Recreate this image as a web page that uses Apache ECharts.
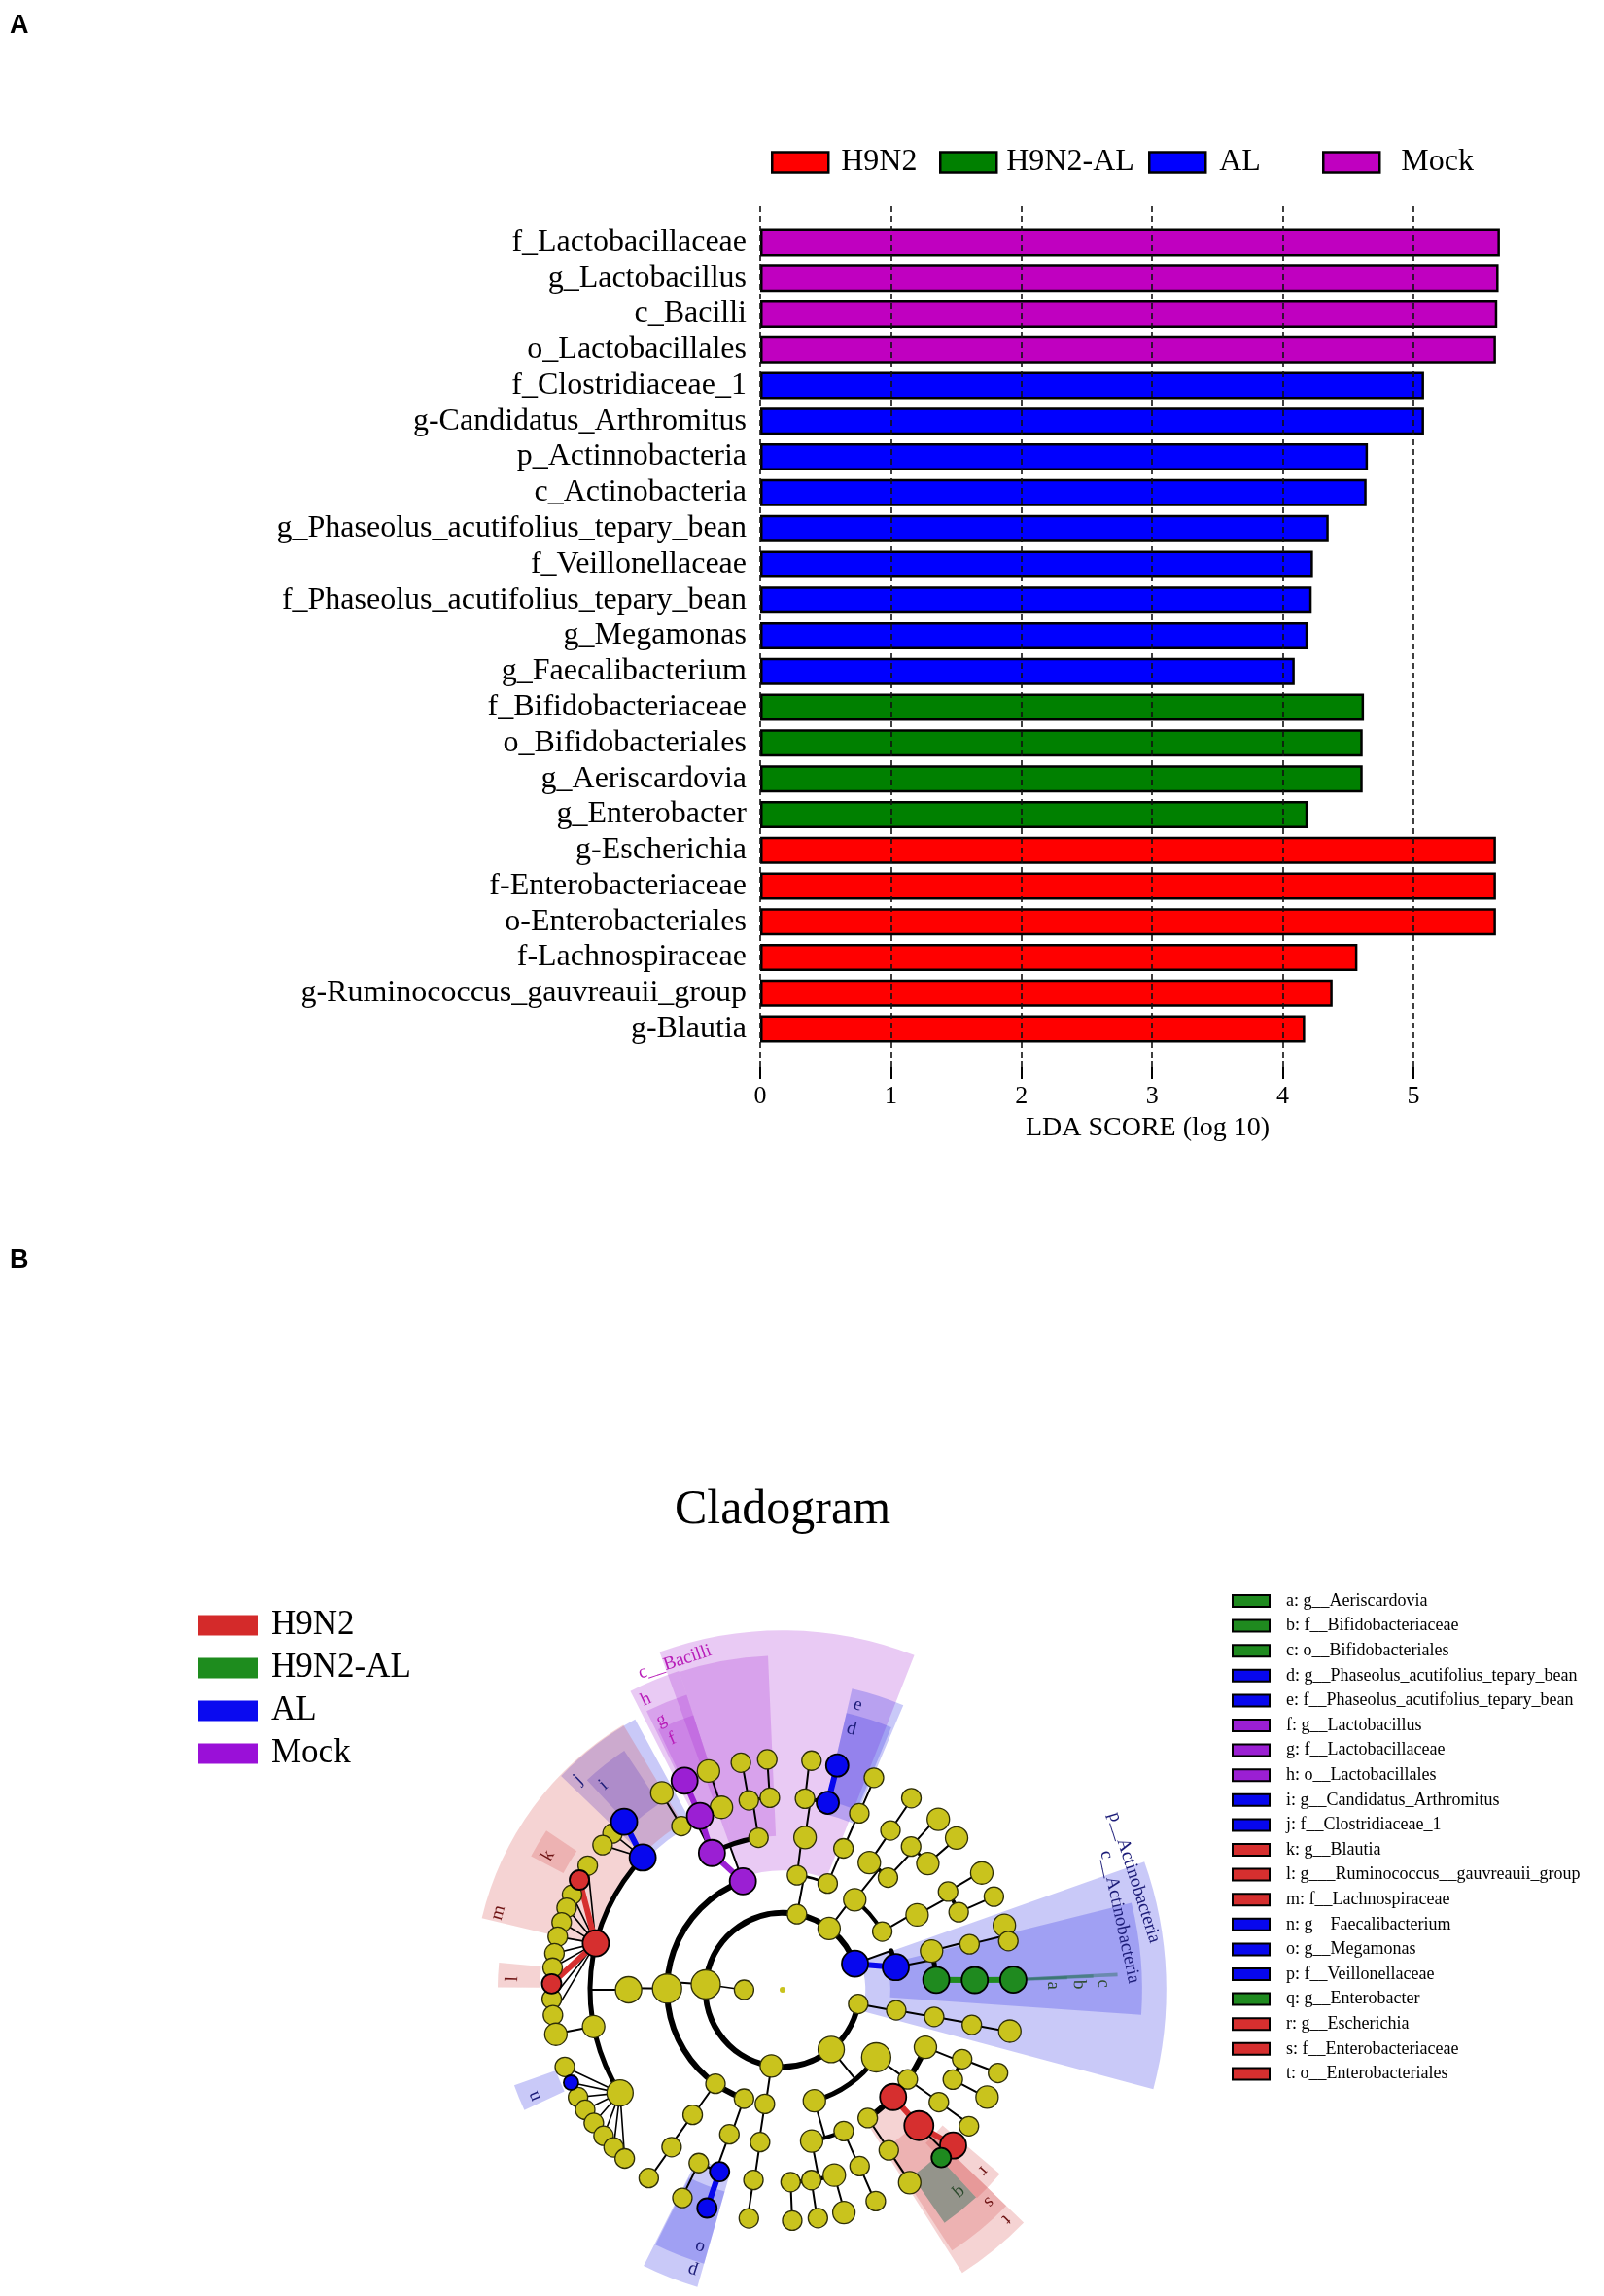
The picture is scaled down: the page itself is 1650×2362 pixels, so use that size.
<!DOCTYPE html>
<html>
<head>
<meta charset="utf-8">
<title>LDA score and cladogram</title>
<script src="https://cdn.jsdelivr.net/npm/echarts/dist/echarts.min.js"></script>
<style>
  html, body { margin: 0; padding: 0; background: #fff; }
  #chart { width: 1650px; height: 2362px; }
</style>
</head>
<body>
<div id="chart"></div>
<script>
const RAD = Math.PI / 180;
const SERIF = 'Liberation Serif';

// ---------- panel A: LDA scores (top to bottom) ----------
const taxa = [
  'f_Lactobacillaceae', 'g_Lactobacillus', 'c_Bacilli', 'o_Lactobacillales',
  'f_Clostridiaceae_1', 'g-Candidatus_Arthromitus', 'p_Actinnobacteria', 'c_Actinobacteria',
  'g_Phaseolus_acutifolius_tepary_bean', 'f_Veillonellaceae', 'f_Phaseolus_acutifolius_tepary_bean',
  'g_Megamonas', 'g_Faecalibacterium', 'f_Bifidobacteriaceae', 'o_Bifidobacteriales',
  'g_Aeriscardovia', 'g_Enterobacter', 'g-Escherichia', 'f-Enterobacteriaceae',
  'o-Enterobacteriales', 'f-Lachnospiraceae', 'g-Ruminococcus_gauvreauii_group', 'g-Blautia'
];
const ldaScores = [
  5.66, 5.65, 5.64, 5.63,
  5.08, 5.08, 4.65, 4.64,
  4.35, 4.23, 4.22,
  4.19, 4.09, 4.62, 4.61,
  4.61, 4.19, 5.63, 5.63,
  5.63, 4.57, 4.38, 4.17
];
const taxaGroup = [
  'Mock', 'Mock', 'Mock', 'Mock',
  'AL', 'AL', 'AL', 'AL', 'AL', 'AL', 'AL', 'AL', 'AL',
  'H9N2-AL', 'H9N2-AL', 'H9N2-AL', 'H9N2-AL',
  'H9N2', 'H9N2', 'H9N2', 'H9N2', 'H9N2', 'H9N2'
];
const groups = ['H9N2', 'H9N2-AL', 'AL', 'Mock'];

// ---------- panel B: cladogram ----------
// [id, parent, level (ring), angle (deg, counter-clockwise from east), group, abundance class]
const nodes = [
  ['root', '', 0, 0, '', 0],
  ['fir', 'root', 2, 176, '', 5],
  ['x40', 'fir', 1, 180, '', 2],
  ['p1', 'root', 2, 79.2, '', 2],
  ['p2', 'root', 2, 52.8, '', 3],
  ['pAct', 'root', 2, 19.8, 'AL', 4],
  ['p4', 'root', 2, 349.4, '', 2],
  ['pPro', 'root', 2, 309.2, '', 4],
  ['p6', 'root', 2, 261.6, '', 3],

  ['c1a', 'p1', 3, 82.8, '', 2], ['c1b', 'p1', 3, 67, '', 2],
  ['c2a', 'p2', 3, 51.3, '', 3], ['c2b', 'p2', 3, 30.3, '', 2],
  ['cAct', 'pAct', 3, 11.3, 'AL', 4],
  ['c4', 'p4', 3, 349.8, '', 2],
  ['c5a', 'pPro', 3, 286, '', 3], ['cGam', 'pPro', 3, 324.2, '', 5],
  ['c6', 'p6', 3, 261.2, '', 2],
  ['cBac', 'fir', 3, 110.1, 'Mock', 4], ['cClo', 'fir', 3, 179.4, '', 5],
  ['c7a', 'fir', 3, 234.5, '', 2], ['cNeg', 'fir', 3, 250.5, '', 2],

  ['o1a', 'c1a', 4, 81.6, '', 3], ['o1b', 'c1b', 4, 66.7, '', 2],
  ['o2a', 'c2a', 4, 55.7, '', 3], ['o2b', 'c2a', 4, 46.8, '', 2],
  ['o2c', 'c2b', 4, 29.1, '', 3],
  ['o3a', 'cAct', 4, 14.6, '', 3], ['oBif', 'cAct', 4, 3.7, 'H9N2-AL', 4],
  ['o4', 'c4', 4, 349.9, '', 2],
  ['o5a', 'cGam', 4, 338.1, '', 3], ['o5b', 'cGam', 4, 324.4, '', 2],
  ['oEnt', 'cGam', 4, 315.9, 'H9N2', 4], ['o5d', 'cGam', 4, 303.6, '', 2],
  ['o6a', 'c5a', 4, 280.9, '', 3], ['o6b', 'c5a', 4, 293.4, '', 2],
  ['o7', 'c6', 4, 261.6, '', 2],
  ['oLac', 'cBac', 4, 117.3, 'Mock', 4], ['o8', 'cBac', 4, 99, '', 2],
  ['oClo', 'cClo', 4, 180, '', 4],
  ['o9', 'c7a', 4, 234.3, '', 2],
  ['oSel', 'cNeg', 4, 249.8, '', 2],

  ['f1a', 'o1a', 5, 83.3, '', 2], ['fPha', 'o1a', 5, 76.4, 'AL', 3],
  ['f1b', 'o1b', 5, 66.5, '', 2],
  ['f2a', 'o2a', 5, 55.9, '', 2],
  ['f2b', 'o2b', 5, 48.1, '', 2], ['f2c', 'o2b', 5, 41, '', 3],
  ['f2d', 'o2c', 5, 30.7, '', 2], ['f2e', 'o2c', 5, 23.8, '', 2],
  ['f3a', 'o3a', 5, 13.7, '', 2],
  ['fBif', 'oBif', 5, 2.9, 'H9N2-AL', 4],
  ['f4', 'o4', 5, 349.5, '', 2],
  ['f5a', 'o5a', 5, 338.9, '', 2], ['f5b', 'o5a', 5, 332.2, '', 2],
  ['f5c', 'o5b', 5, 324.3, '', 2],
  ['fEnt', 'oEnt', 5, 315.1, 'H9N2', 5],
  ['f5d', 'o5d', 5, 303.5, '', 2],
  ['f6a', 'o6a', 5, 272.4, '', 2], ['f6b', 'o6a', 5, 278.6, '', 2], ['f6c', 'o6a', 5, 285.6, '', 3],
  ['f6d', 'o6b', 5, 293.6, '', 2],
  ['f7', 'o7', 5, 261.3, '', 2],
  ['fLac', 'oLac', 5, 115.4, 'Mock', 4], ['f8a', 'oLac', 5, 121.7, '', 2], ['f8b', 'oLac', 5, 108.5, '', 3],
  ['f8c', 'o8', 5, 100.1, '', 2], ['f8d', 'o8', 5, 93.8, '', 2],
  ['fClo', 'oClo', 5, 136.6, 'AL', 4], ['fLach', 'oClo', 5, 166, 'H9N2', 4],
  ['f9', 'oClo', 5, 191, '', 3], ['fRum', 'oClo', 5, 212.4, '', 4],
  ['f10', 'o9', 5, 234.8, '', 2],
  ['fVei', 'oSel', 5, 250.9, 'AL', 2], ['f11', 'oSel', 5, 244.2, '', 2],

  ['g1a', 'f1a', 6, 82.8, '', 2], ['gPha', 'fPha', 6, 76.3, 'AL', 3],
  ['g1b', 'f1b', 6, 66.7, '', 2],
  ['g2a', 'f2a', 6, 56.1, '', 2],
  ['g2b', 'f2b', 6, 47.6, '', 3],
  ['g2c', 'f2c', 6, 41.1, '', 3],
  ['g2d', 'f2d', 6, 30.4, '', 3],
  ['g2e', 'f2e', 6, 23.8, '', 2],
  ['g3a', 'f3a', 6, 16.2, '', 3], ['g3b', 'f3a', 6, 12.2, '', 2],
  ['gAer', 'fBif', 6, 2.5, 'H9N2-AL', 4],
  ['g4', 'f4', 6, 349.7, '', 3],
  ['g5a', 'f5a', 6, 338.9, '', 2],
  ['g5b', 'f5b', 6, 332.3, '', 3],
  ['g5c', 'f5c', 6, 323.8, '', 2],
  ['gEsc', 'fEnt', 6, 317.6, 'H9N2', 4], ['gEnb', 'fEnt', 6, 313.4, 'H9N2-AL', 2],
  ['g5d', 'f5d', 6, 303.4, '', 3],
  ['g6a', 'f6a', 6, 272.4, '', 2], ['g6b', 'f6b', 6, 278.8, '', 2],
  ['g6c', 'f6c', 6, 285.4, '', 3], ['g6d', 'f6d', 6, 293.8, '', 2],
  ['g7', 'f7', 6, 261.6, '', 2],
  ['gMeg', 'fVei', 6, 250.9, 'AL', 2], ['g11', 'f11', 6, 244.3, '', 2],
  ['g10', 'f10', 6, 234.6, '', 2],
  ['gLab', 'fLac', 6, 115.1, 'Mock', 4],
  ['g8a', 'f8a', 6, 121.5, '', 3], ['g8b', 'f8b', 6, 108.7, '', 3],
  ['g8c', 'f8c', 6, 100.4, '', 2], ['g8d', 'f8d', 6, 93.8, '', 2],
  ['gCan', 'fClo', 6, 133.3, 'AL', 4], ['g9a', 'fClo', 6, 137.4, '', 2], ['g9b', 'fClo', 6, 141.2, '', 2],
  ['g13a', 'fLach', 6, 147.5, '', 2], ['gBla', 'fLach', 6, 151.6, 'H9N2', 2],
  ['g13b', 'fLach', 6, 155.7, '', 2], ['g13c', 'fLach', 6, 159.2, '', 2],
  ['g13d', 'fLach', 6, 163, '', 2], ['g13e', 'fLach', 6, 166.7, '', 2],
  ['g13f', 'fLach', 6, 170.9, '', 2], ['g13g', 'fLach', 6, 174.5, '', 2],
  ['gRum', 'fLach', 6, 178.5, 'H9N2', 2], ['g13h', 'fLach', 6, 182.3, '', 2],
  ['g13i', 'fLach', 6, 186.3, '', 2],
  ['g14', 'f9', 6, 191.1, '', 3],
  ['g15a', 'fRum', 6, 199.5, '', 2], ['gFae', 'fRum', 6, 203.7, 'AL', 1],
  ['g15b', 'fRum', 6, 207.7, '', 2], ['g15c', 'fRum', 6, 211.3, '', 2],
  ['g15d', 'fRum', 6, 215.2, '', 2], ['g15e', 'fRum', 6, 219.2, '', 2],
  ['g15f', 'fRum', 6, 223, '', 2], ['g15g', 'fRum', 6, 226.9, '', 2]
];

// biomarkers listed in the key: [letter, taxon, node]
const biomarkers = [
  ['a', 'g__Aeriscardovia', 'gAer'],
  ['b', 'f__Bifidobacteriaceae', 'fBif'],
  ['c', 'o__Bifidobacteriales', 'oBif'],
  ['d', 'g__Phaseolus_acutifolius_tepary_bean', 'gPha'],
  ['e', 'f__Phaseolus_acutifolius_tepary_bean', 'fPha'],
  ['f', 'g__Lactobacillus', 'gLab'],
  ['g', 'f__Lactobacillaceae', 'fLac'],
  ['h', 'o__Lactobacillales', 'oLac'],
  ['i', 'g__Candidatus_Arthromitus', 'gCan'],
  ['j', 'f__Clostridiaceae_1', 'fClo'],
  ['k', 'g__Blautia', 'gBla'],
  ['l', 'g___Ruminococcus__gauvreauii_group', 'gRum'],
  ['m', 'f__Lachnospiraceae', 'fLach'],
  ['n', 'g__Faecalibacterium', 'gFae'],
  ['o', 'g__Megamonas', 'gMeg'],
  ['p', 'f__Veillonellaceae', 'fVei'],
  ['q', 'g__Enterobacter', 'gEnb'],
  ['r', 'g__Escherichia', 'gEsc'],
  ['s', 'f__Enterobacteriaceae', 'fEnt'],
  ['t', 'o__Enterobacteriales', 'oEnt']
];
const otherMarkers = [['p__Actinobacteria', 'pAct'], ['c__Actinobacteria', 'cAct'], ['c__Bacilli', 'cBac']];

// shaded clades: [label, group, from angle, to angle, inner ring, outer ring]
const clades = [
  ['c__Bacilli', 'Mock', 68.5, 110, 3.1, 9.34],
  ['', 'Mock', 92.5, 108, 4.0, 8.68],
  ['h', 'Mock', 108, 117, 4.0, 8.71],
  ['g', 'Mock', 108, 116, 4.9, 8.06],
  ['f', 'Mock', 108, 115.5, 5.9, 7.5],
  ['e', 'AL', 67, 77, 4.7, 8.03],
  ['d', 'AL', 67.5, 77, 5.05, 7.38],
  ['j', 'AL', 118.6, 136, 4.9, 8.0],
  ['i', 'AL', 123.5, 133, 5.8, 7.45],
  ['m', 'H9N2', 121, 166.6, 5.05, 8.03],
  ['k', 'H9N2', 146, 152, 6.45, 7.4],
  ['l', 'H9N2', 174.5, 179.5, 6.3, 7.4],
  ['n', 'AL', 199.6, 205, 6.25, 7.4],
  ['o', 'AL', 243.5, 254, 5.45, 7.4],
  ['p', 'AL', 243.3, 254, 4.9, 8.03],
  ['t', 'H9N2', 302.4, 316, 4.05, 8.71],
  ['s', 'H9N2', 303, 316, 4.9, 8.08],
  ['r', 'H9N2', 313, 319.7, 5.45, 7.4],
  ['q', 'H9N2-AL', 304.8, 313, 5.9, 7.37],
  ['p__Actinobacteria', 'AL', -15, 19.5, 2.15, 9.97],
  ['c__Actinobacteria', 'AL', -4, 14, 2.8, 9.34],
  ['c', 'H9N2-AL', 2.3, 2.9, 4.05, 8.71],
  ['b', 'H9N2-AL', 2.2, 2.8, 4.9, 8.08],
  ['a', 'H9N2-AL', 2.1, 2.7, 5.8, 7.4]
];

// ---------- styles ----------
const barColors = { 'H9N2': '#ff0000', 'H9N2-AL': '#008000', 'AL': '#0000ff', 'Mock': '#c000c0' };
const nodeColors = { '': '#c9c31d', 'H9N2': '#d62f2f', 'H9N2-AL': '#1f8a1f', 'AL': '#0707ee', 'Mock': '#9b1fd3' };
const shadeColors = { 'H9N2': 'rgba(215,80,80,0.25)', 'H9N2-AL': 'rgba(40,110,90,0.45)', 'AL': 'rgba(40,40,228,0.25)', 'Mock': 'rgba(167,45,211,0.25)' };
const shadeText = { 'H9N2': '#6e1414', 'H9N2-AL': '#2d4a2d', 'AL': '#1c1c78', 'Mock': '#b81cb8' };
const keyColors = { 'H9N2': '#d42a2a', 'H9N2-AL': '#1e8c1e', 'AL': '#0a0af0', 'Mock': '#9a10d8' };
const groupOrder = ['', 'H9N2', 'H9N2-AL', 'AL', 'Mock'];
const sizePx = [6, 15, 20, 23, 27, 30];
const ringWidth = [2, 2.5, 3, 4, 5, 6];
const fanParents = ['fClo', 'fLach', 'fRum'];

// ---------- branches from the tree ----------
const byId = {};
nodes.forEach(n => { byId[n[0]] = n; });
const kids = {};
nodes.forEach(n => { if (n[1]) (kids[n[1]] = kids[n[1]] || []).push(n); });

// [r1, a1, r2, a2, width, group index, kind 0 line / 1 arc]
const blackSegs = [];
const colourSegs = [];
Object.keys(kids).forEach(pid => {
  const p = byId[pid];
  const fan = fanParents.indexOf(pid) >= 0;
  const outer = kids[pid].filter(k => k[2] > p[2]);
  const ringLevel = outer.length ? Math.min(...outer.map(k => k[2])) : 0;
  const ring = outer.filter(k => k[2] === ringLevel);
  if (!fan && ring.length) {
    const angs = ring.map(k => k[3]);
    if (pid !== 'root') {
      angs.push(p[3]);
      blackSegs.push([p[2], p[3], ringLevel, p[3], 2, 0, 0]);
    }
    blackSegs.push([ringLevel, Math.min(...angs), ringLevel, Math.max(...angs),
      pid === 'root' ? 6 : ringWidth[p[5]], 0, 1]);
  }
  kids[pid].forEach(k => {
    const same = k[4] !== '' && k[4] === p[4];
    if (same) colourSegs.push([p[2], p[3], k[2], k[3], 6, groupOrder.indexOf(k[4]), 0]);
    else if (fan || k[2] !== ringLevel) blackSegs.push([p[2], p[3], k[2], k[3], 1.6, 0, 0]);
  });
});
const branchSegs = blackSegs.concat(colourSegs);

function frame(api) {
  const c = api.coord([0, 0]);
  const e = api.coord([1, 0]);
  return { cx: c[0], cy: c[1], unit: Math.hypot(e[0] - c[0], e[1] - c[1]) };
}

// ---------- series ----------
const barSeries = groups.map(g => ({
  name: g,
  type: 'bar',
  xAxisIndex: 0,
  yAxisIndex: 0,
  barWidth: 28,
  barGap: '-100%',
  silent: true,
  data: ldaScores.map((v, i) => taxaGroup[i] === g ? v : '-'),
  itemStyle: { color: barColors[g], borderColor: '#000', borderWidth: 2.5 }
}));

const sectorSeries = {
  type: 'custom',
  coordinateSystem: 'polar',
  z: 1,
  silent: true,
  data: clades.map(s => [s[4], s[2]]),
  renderItem: function (params, api) {
    const s = clades[params.dataIndex];
    const f = frame(api);
    return {
      type: 'sector',
      shape: {
        cx: f.cx, cy: f.cy, r0: s[4] * f.unit, r: s[5] * f.unit,
        startAngle: -s[3] * RAD, endAngle: -s[2] * RAD, clockwise: true
      },
      style: { fill: shadeColors[s[1]] }
    };
  }
};

const branchSeries = {
  type: 'custom',
  coordinateSystem: 'polar',
  z: 2,
  silent: true,
  data: branchSegs.map(s => [s[0], s[1]]),
  renderItem: function (params, api) {
    const s = branchSegs[params.dataIndex];
    const stroke = s[5] ? nodeColors[groupOrder[s[5]]] : '#000';
    if (s[6] === 1) {
      const f = frame(api);
      return {
        type: 'arc',
        shape: { cx: f.cx, cy: f.cy, r: s[0] * f.unit, startAngle: -s[3] * RAD, endAngle: -s[1] * RAD, clockwise: true },
        style: { stroke: stroke, lineWidth: s[4], fill: null, lineCap: 'round' }
      };
    }
    const p1 = api.coord([s[0], s[1]]);
    const p2 = api.coord([s[2], s[3]]);
    return {
      type: 'line',
      shape: { x1: p1[0], y1: p1[1], x2: p2[0], y2: p2[1] },
      style: { stroke: stroke, lineWidth: s[4], lineCap: 'round' }
    };
  }
};

const cladeLabelSeries = {
  type: 'custom',
  coordinateSystem: 'polar',
  z: 4,
  silent: true,
  data: clades.map(s => [s[5], s[3]]),
  renderItem: function (params, api) {
    const s = clades[params.dataIndex];
    if (!s[0]) return { type: 'group', children: [] };
    const f = frame(api);
    const a = s[3] - 1.8;
    const r = (s[5] - 0.38) * f.unit;
    return {
      type: 'text',
      x: f.cx + r * Math.cos(a * RAD),
      y: f.cy - r * Math.sin(a * RAD),
      rotation: (a - 90) * RAD,
      style: {
        text: s[0], fill: shadeText[s[1]], fontSize: 19, fontFamily: SERIF,
        align: 'center', verticalAlign: 'middle'
      }
    };
  }
};

const markerName = {};
biomarkers.forEach(b => { markerName[b[2]] = b[0] + ': ' + b[1]; });
otherMarkers.forEach(m => { markerName[m[1]] = m[0]; });

const nodeSeries = [{
  name: 'taxa',
  type: 'scatter',
  coordinateSystem: 'polar',
  z: 3,
  silent: true,
  data: nodes.filter(n => !n[4]).map(n => ({
    value: [n[2], n[3], n[5]],
    itemStyle: n[0] === 'root' ? { borderWidth: 0 } : undefined
  })),
  symbolSize: v => sizePx[v[2]],
  itemStyle: { color: nodeColors[''], borderColor: '#2e2e08', borderWidth: 1.3, opacity: 1 }
}];
nodes.filter(n => n[4]).forEach(n => {
  nodeSeries.push({
    name: markerName[n[0]],
    type: 'scatter',
    coordinateSystem: 'polar',
    z: 3,
    silent: true,
    data: [[n[2], n[3], n[5]]],
    symbolSize: v => sizePx[v[2]],
    itemStyle: { color: nodeColors[n[4]], borderColor: '#000', borderWidth: 1.8, opacity: 1 }
  });
});

// ---------- legends ----------
function barLegend(name, left, gap) {
  return {
    data: [name], left: left, top: 150, padding: 0, orient: 'horizontal',
    icon: 'rect', itemWidth: 58, itemHeight: 21, selectedMode: false,
    itemStyle: { borderColor: '#000', borderWidth: 2.5 },
    textStyle: { fontFamily: SERIF, fontSize: 32, lineHeight: 34, color: '#000', padding: [0, 0, 0, gap] }
  };
}

const option = {
  animation: false,
  backgroundColor: '#fff',
  textStyle: { fontFamily: SERIF },
  title: [
    { text: 'A', left: 10, top: 13, padding: 0,
      textStyle: { fontFamily: 'Liberation Sans', fontWeight: 'bold', fontSize: 27, color: '#000' } },
    { text: 'B', left: 10, top: 1283, padding: 0,
      textStyle: { fontFamily: 'Liberation Sans', fontWeight: 'bold', fontSize: 27, color: '#000' } },
    { text: 'Cladogram', left: 805, top: 1529, textAlign: 'center', padding: 0,
      textStyle: { fontFamily: SERIF, fontWeight: 'normal', fontSize: 50, color: '#000' } }
  ],
  legend: [
    barLegend('H9N2', 793, 8),
    barLegend('H9N2-AL', 966, 5),
    barLegend('AL', 1181, 9),
    barLegend('Mock', 1360, 17),
    {
      orient: 'vertical', left: 204, top: 1652, padding: 0, itemGap: 4,
      icon: 'rect', itemWidth: 61, itemHeight: 21, selectedMode: false,
      data: groups.map(g => ({ name: g, itemStyle: { color: keyColors[g], borderWidth: 0 } })),
      textStyle: { fontFamily: SERIF, fontSize: 35, lineHeight: 40, color: '#000', padding: [0, 0, 0, 9] }
    },
    {
      orient: 'vertical', left: 1267, top: 1637, padding: 0, itemGap: 5.6,
      icon: 'rect', itemWidth: 38, itemHeight: 12, selectedMode: false,
      data: biomarkers.map(b => b[0] + ': ' + b[1]),
      itemStyle: { borderColor: '#000', borderWidth: 2 },
      textStyle: { fontFamily: SERIF, fontSize: 18, lineHeight: 20, color: '#000', padding: [0, 0, 0, 12] }
    }
  ],
  grid: [
    { left: 782, top: 231, width: 773, height: 846 },
    { left: 782, top: 212, width: 672, height: 886 }
  ],
  xAxis: [
    {
      gridIndex: 0, type: 'value', min: 0, max: 5.75,
      axisLine: { show: false }, axisTick: { show: false }, axisLabel: { show: false }, splitLine: { show: false },
      name: 'LDA SCORE (log 10)', nameLocation: 'middle', nameGap: 70,
      nameTextStyle: { fontFamily: SERIF, fontSize: 28, color: '#000', padding: [0, 0, 0, 24] }
    },
    {
      gridIndex: 1, type: 'value', min: 0, max: 5, interval: 1, z: 10,
      axisLine: { show: false },
      axisTick: { show: true, length: 12, lineStyle: { color: '#000', width: 2 } },
      axisLabel: { fontFamily: SERIF, fontSize: 26, color: '#000', margin: 17 },
      splitLine: { show: true, lineStyle: { color: '#111', width: 1.6, type: [6, 4] } }
    }
  ],
  yAxis: [
    {
      gridIndex: 0, type: 'category', data: taxa, inverse: true,
      axisLine: { show: false }, axisTick: { show: false },
      axisLabel: { interval: 0, fontFamily: SERIF, fontSize: 32, color: '#000', margin: 14 }
    },
    { gridIndex: 1, type: 'value', min: 0, max: 1, show: false }
  ],
  polar: { center: [805, 2047], radius: 396 },
  angleAxis: { type: 'value', min: 0, max: 360, startAngle: 0, clockwise: false, show: false },
  radiusAxis: { type: 'value', min: 0, max: 10, show: false },
  series: barSeries.concat([sectorSeries, branchSeries], nodeSeries, [cladeLabelSeries])
};

const chart = echarts.init(document.getElementById('chart'), null, { renderer: 'canvas' });
chart.setOption(option);
</script>
</body>
</html>
